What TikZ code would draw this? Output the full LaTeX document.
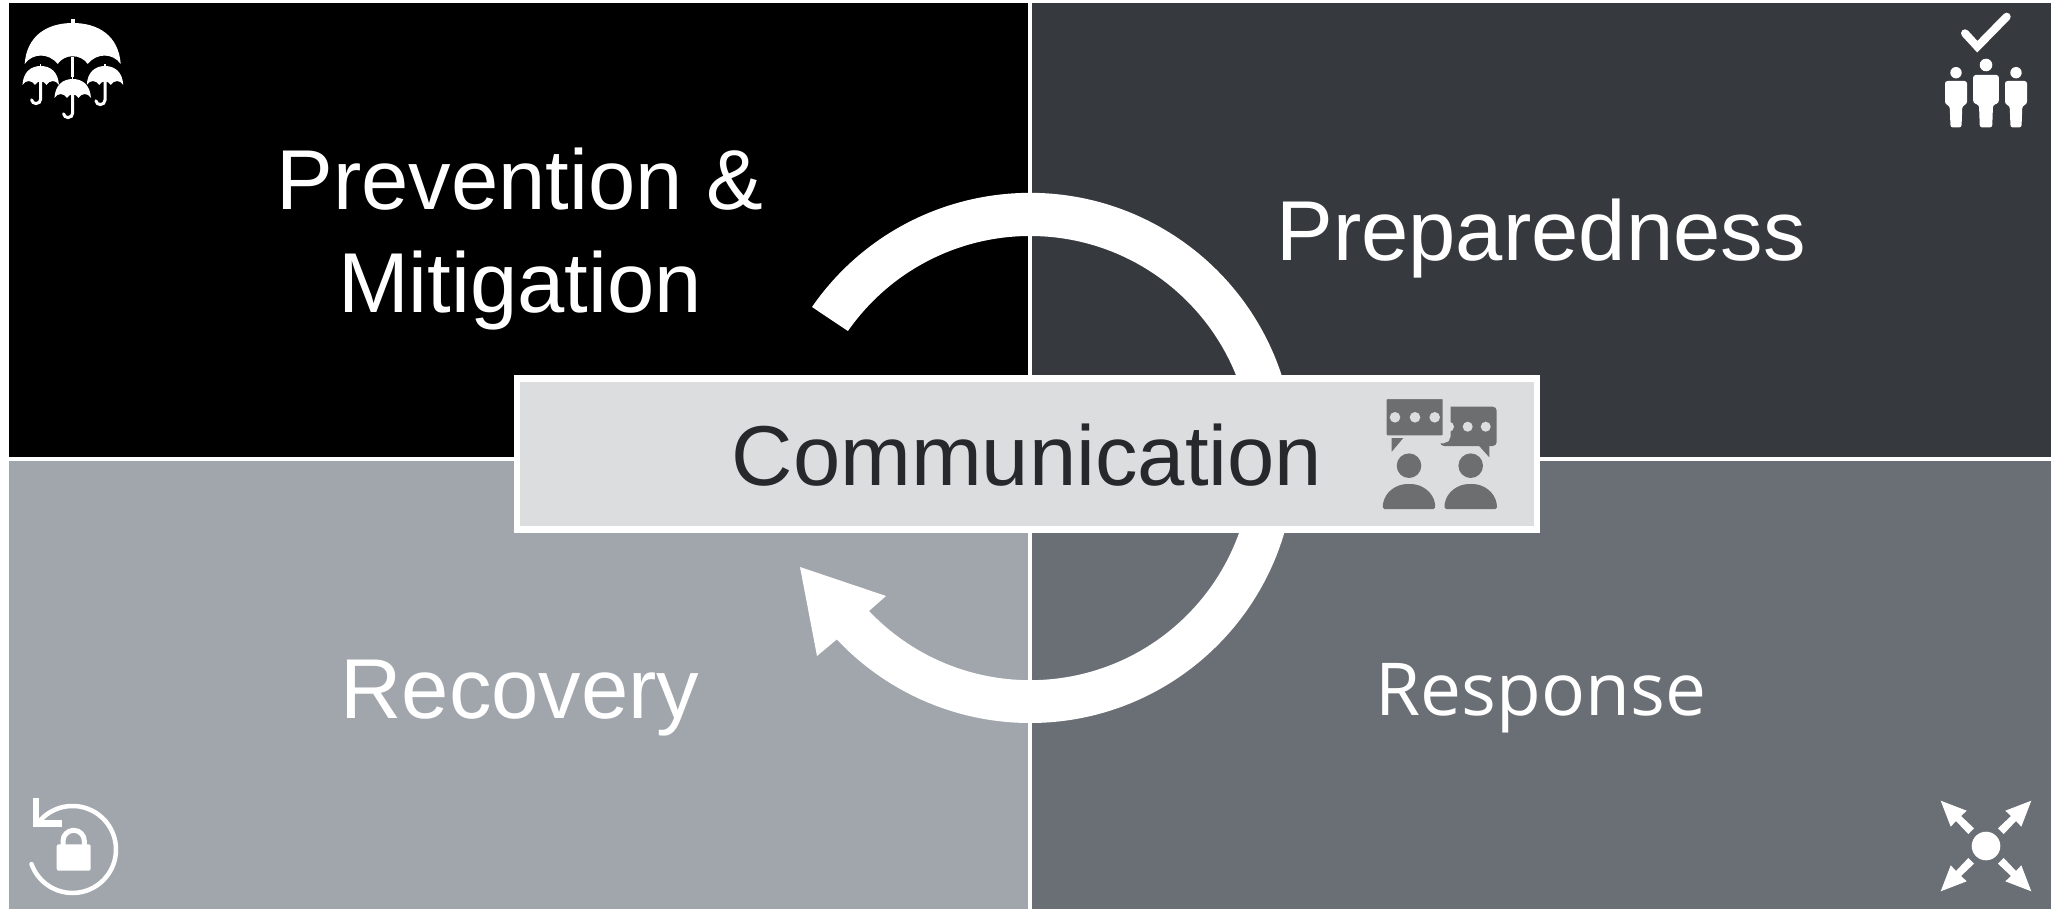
\documentclass[tikz,border=0pt]{standalone}
\usepackage{fontspec}
\setmainfont{Liberation Sans}
\newfontfamily\respfont{Open Sans}
\definecolor{qblack}{HTML}{000000}
\definecolor{qdark}{HTML}{36393E}
\definecolor{qgrey}{HTML}{A1A6AC}
\definecolor{qmid}{HTML}{6A6F76}
\definecolor{boxfill}{HTML}{DCDDDF}
\definecolor{icongrey}{HTML}{6D6E70}
\definecolor{commtext}{HTML}{26282C}
\tikzset{
  x=1pt,y=-1pt,
  qlabel/.style={text=white,align=center,inner sep=0pt,font=\fontsize{85}{108}\selectfont},
  iconline/.style={draw=white,fill=none},
  gicon/.style={fill=icongrey,draw=none},
  cutout/.style={fill=boxfill,draw=none}
}
\newcommand{\canopyicon}[4]{% x, y of canopy top, x scale, y scale
  \begin{scope}[shift={(#1,#2)},xscale=#3,yscale=#4]
    \fill[white] (-48,44) .. controls (-46,14) and (-26,0) .. (0,0)
      .. controls (26,0) and (46,14) .. (48,44)
      .. controls (40,32) and (24,32) .. (15,44)
      .. controls (8,33) and (-8,33) .. (-15,44)
      .. controls (-24,32) and (-40,32) .. (-48,44) -- cycle;
    \fill[white] (-2,-4) rectangle (2,2);
  \end{scope}
}
\newcommand{\hookicon}[3]{% x, stem top y, lowest y
  \draw[white,line width=3pt,line cap=round] (#1,#2) -- (#1,#3-6) arc[start angle=0,end angle=170,radius=4.6];
}
\newcommand{\personicon}[7]{% head x, head y, head r, shoulder half width, top y, arm bottom y, leg half width
  \fill[white] (#1,#2) circle[radius=#3];
  \fill[white,rounded corners=2.5pt] (#1-#4,#6) -- (#1-#4,#5) -- (#1+#4,#5) -- (#1+#4,#6) -- (#1+#7,#6+2) -- (#1+#7-0.8,127.5) -- (#1-#7+0.8,127.5) -- (#1-#7,#6+2) -- cycle;
}
\newcommand{\outarrow}[2]{% reflection signs
  \fill[white,xscale=#1,yscale=#2] (-45.3,-45.3) -- (-19.3,-35.3) -- (-25,-30) -- (-12,-17.7) -- (-17.7,-12) -- (-30,-25) -- (-35.3,-19.3) -- cycle;
}
\newcommand{\speakerbody}[1]{%
  \fill[icongrey,rounded corners=1.5pt] (#1-26.2,509) -- (#1-26.2,505)
    .. controls (#1-24,492) and (#1-13,484) .. (#1,484)
    .. controls (#1+13,484) and (#1+24,492) .. (#1+26.2,505) -- (#1+26.2,509) -- cycle;
}
\begin{document}
\begin{tikzpicture}
\useasboundingbox (0,0) rectangle (2051,909);
\fill[white] (0,0) rectangle (2051,909);
\fill[qblack] (9,3) rectangle (1028.3,456.7);
\fill[qdark] (1031.7,3) rectangle (2051,456.7);
\fill[qgrey] (9,460.7) rectangle (1028.3,909);
\fill[qmid] (1031.7,460.7) rectangle (2051,909);
% cycle arrow
\fill[white] (812,307) arc[start angle=214.7,end angle=360,radius=265]
  -- (1252,458) arc[start angle=360,end angle=214.9,radius=222] -- cycle;
\fill[white] (1295,458) arc[start angle=0,end angle=136.8,radius=265]
  -- (817,656) -- (800,567) -- (886,596) -- (869,611)
  arc[start angle=136.5,end angle=0,radius=222] -- cycle;
% centre box
\node[draw=white,line width=6.6pt,fill=boxfill,inner sep=0pt,outer sep=0pt,minimum width=1020pt,minimum height=151pt] (commbox) at (1027,454) {};
\node[text=commtext,inner sep=0pt,font=\fontsize{85}{108}\selectfont,anchor=base] (comm) at (1027,485) {Communication};
% labels
\node[qlabel,anchor=base] (prev) at (520,210) {Prevention \&};
\node[qlabel,anchor=base] (miti) at (520,313) {Mitigation};
\node[qlabel,anchor=base] (prep) at (1541,261) {Preparedness};
\node[qlabel,anchor=base] (reco) at (520,718) {Recovery};
\node[qlabel,anchor=base,font=\respfont\fontsize{73}{90}\selectfont] (resp) at (1541,715) {Response};
% umbrella icon (prevention)
\fill[white] (71.3,57) rectangle (74.2,77);
\canopyicon{72.7}{23}{1}{0.93}
\hookicon{40.7}{80}{105}
\hookicon{72.7}{93}{119}
\hookicon{105}{80}{106}
\canopyicon{40.7}{66}{0.38}{0.43}
\canopyicon{72.7}{79}{0.38}{0.43}
\canopyicon{105}{66}{0.38}{0.43}
% people and check icon (preparedness)
\draw[iconline,line width=8pt,line cap=round,line join=miter] (1965,33.3) -- (1977.3,46.7) -- (2006.7,16.7);
\personicon{1986}{65}{6.3}{12.8}{75}{103}{7}
\personicon{1956}{72.7}{5.7}{11}{81}{104}{6.3}
\personicon{2016}{72.7}{5.7}{11}{81}{104}{6.3}
% recovery icon
\draw[iconline,line width=4.5pt,line cap=round] (38,823) arc[start angle=217.5,end angle=520.4,radius=43.5];
\draw[iconline,line width=6.5pt,line join=miter] (36,798) -- (36,823.7) -- (62.3,823.7);
\fill[white,rounded corners=2pt] (56.7,844.3) rectangle (90.7,870.7);
\draw[iconline,line width=5pt] (63,846) -- (63,841) arc[start angle=180,end angle=360,radius=10.7] -- (84.4,846);
% response icon
\begin{scope}[shift={(1986,846)}]
  \fill[white] (0,0) circle[radius=14.3];
  \outarrow{1}{1}
  \outarrow{-1}{1}
  \outarrow{1}{-1}
  \outarrow{-1}{-1}
\end{scope}
% communication icon
\fill[icongrey,rounded corners=4pt] (1440,406.7) rectangle (1496.7,446);
\fill[icongrey] (1478.3,445) -- (1489.3,457.3) -- (1489.3,445) -- cycle;
\fill[cutout] (1467.7,426.7) circle[radius=5];
\fill[cutout] (1485.7,426.7) circle[radius=5];
\fill[cutout] (1449,426.7) circle[radius=5];
\draw[draw=boxfill,fill=icongrey,line width=8pt,rounded corners=4pt] (1382.7,395) rectangle (1446.7,439.3);
\fill[icongrey] (1391.7,438) -- (1391.7,451.7) -- (1403.3,438) -- cycle;
\fill[cutout] (1395,417.3) circle[radius=5.3];
\fill[cutout] (1415,417.3) circle[radius=5.3];
\fill[cutout] (1434.7,417.3) circle[radius=5.3];
\fill[icongrey] (1409,465.7) circle[radius=12.3];
\fill[icongrey] (1470.7,465.7) circle[radius=12.3];
\speakerbody{1409}
\speakerbody{1470.7}
\end{tikzpicture}
\end{document}
